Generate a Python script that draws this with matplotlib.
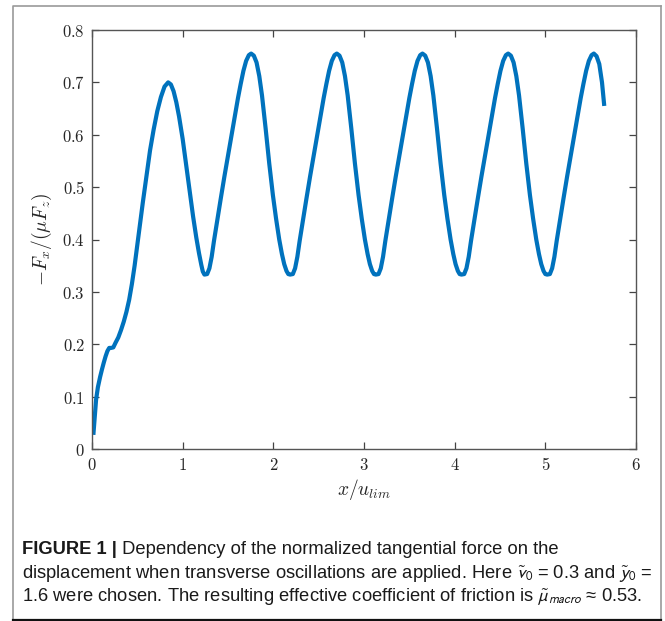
import matplotlib
matplotlib.use("Agg")
import matplotlib.pyplot as plt
from matplotlib.lines import Line2D
from matplotlib.ticker import FuncFormatter, FixedLocator

# ---- data ----
x_disp = [
    # start-up and first peak
    0.015, 0.025, 0.035, 0.045, 0.065, 0.09, 0.11, 0.13, 0.15, 0.17, 0.19, 0.21, 0.235,
    0.26, 0.29, 0.32, 0.35, 0.38, 0.41, 0.44, 0.47, 0.50, 0.53, 0.56, 0.60, 0.64, 0.68,
    0.72, 0.76, 0.80, 0.84,
    0.87, 0.90, 0.93, 0.96, 1.00, 1.04, 1.08, 1.115, 1.15, 1.18, 1.205, 1.222, 1.24,
    # cycle 1
    1.27, 1.295, 1.32, 1.345, 1.38, 1.42, 1.46, 1.50, 1.54, 1.58, 1.61, 1.64, 1.67, 1.70, 1.73, 1.755,
    1.785, 1.815, 1.845, 1.875, 1.915, 1.955, 1.995, 2.03, 2.065, 2.095, 2.12, 2.145, 2.165, 2.185,
    # cycle 2
    2.215, 2.24, 2.265, 2.29, 2.325, 2.365, 2.405, 2.445, 2.485, 2.525, 2.555, 2.585, 2.615, 2.645, 2.675, 2.70,
    2.73, 2.76, 2.79, 2.82, 2.86, 2.90, 2.94, 2.975, 3.01, 3.04, 3.065, 3.09, 3.11, 3.13,
    # cycle 3
    3.16, 3.185, 3.21, 3.235, 3.27, 3.31, 3.35, 3.39, 3.43, 3.47, 3.50, 3.53, 3.56, 3.59, 3.62, 3.645,
    3.675, 3.705, 3.735, 3.765, 3.805, 3.845, 3.885, 3.92, 3.955, 3.985, 4.01, 4.035, 4.055, 4.075,
    # cycle 4
    4.105, 4.13, 4.155, 4.18, 4.215, 4.255, 4.295, 4.335, 4.375, 4.415, 4.445, 4.475, 4.505, 4.535, 4.565, 4.59,
    4.62, 4.65, 4.68, 4.71, 4.75, 4.79, 4.83, 4.865, 4.90, 4.93, 4.955, 4.98, 5.00, 5.02,
    # cycle 5 (truncated)
    5.05, 5.075, 5.10, 5.125, 5.16, 5.20, 5.24, 5.28, 5.32, 5.36, 5.39, 5.42, 5.45, 5.48, 5.51, 5.535,
    5.565, 5.595, 5.625, 5.65,
]
force = [
    0.027, 0.050, 0.072, 0.094, 0.118, 0.138, 0.152, 0.165, 0.177, 0.187, 0.193, 0.193, 0.194,
    0.203, 0.213, 0.227, 0.243, 0.262, 0.285, 0.315, 0.350, 0.390, 0.430, 0.470, 0.520, 0.570, 0.610,
    0.645, 0.672, 0.692, 0.700,
    0.696, 0.683, 0.662, 0.635, 0.592, 0.540, 0.487, 0.444, 0.404, 0.374, 0.352, 0.339, 0.333,
    0.334, 0.345, 0.367, 0.397, 0.435, 0.478, 0.520, 0.560, 0.600, 0.640, 0.670, 0.697, 0.722, 0.741, 0.752, 0.755,
    0.751, 0.738, 0.712, 0.675, 0.612, 0.545, 0.485, 0.440, 0.400, 0.372, 0.353, 0.340, 0.334, 0.333,
    0.334, 0.345, 0.367, 0.397, 0.435, 0.478, 0.520, 0.560, 0.600, 0.640, 0.670, 0.697, 0.722, 0.741, 0.752, 0.755,
    0.751, 0.738, 0.712, 0.675, 0.612, 0.545, 0.485, 0.440, 0.400, 0.372, 0.353, 0.340, 0.334, 0.333,
    0.334, 0.345, 0.367, 0.397, 0.435, 0.478, 0.520, 0.560, 0.600, 0.640, 0.670, 0.697, 0.722, 0.741, 0.752, 0.755,
    0.751, 0.738, 0.712, 0.675, 0.612, 0.545, 0.485, 0.440, 0.400, 0.372, 0.353, 0.340, 0.334, 0.333,
    0.334, 0.345, 0.367, 0.397, 0.435, 0.478, 0.520, 0.560, 0.600, 0.640, 0.670, 0.697, 0.722, 0.741, 0.752, 0.755,
    0.751, 0.738, 0.712, 0.675, 0.612, 0.545, 0.485, 0.440, 0.400, 0.372, 0.353, 0.340, 0.334, 0.333,
    0.334, 0.345, 0.367, 0.397, 0.435, 0.478, 0.520, 0.560, 0.600, 0.640, 0.670, 0.697, 0.722, 0.741, 0.752, 0.755,
    0.750, 0.735, 0.700, 0.655,
]
x_ticks = [0, 1, 2, 3, 4, 5, 6]
y_ticks = [0, 0.1, 0.2, 0.3, 0.4, 0.5, 0.6, 0.7, 0.8]

caption_bold = "FIGURE 1 |"
caption_l1 = " Dependency of the normalized tangential force on the"
caption_l2 = r"displacement when transverse oscillations are applied. Here $\tilde{v}_0$ = 0.3 and $\tilde{y}_0$ ="
caption_l3 = r"1.6 were chosen. The resulting effective coefficient of friction is $\tilde{\mu}_{macro}$ ≈ 0.53."

# ---- figure ----
plt.rcParams["mathtext.fontset"] = "cm"
W, H = 665, 621
fig = plt.figure(figsize=(W / 100, H / 100), dpi=100)

ax = fig.add_axes([92 / W, 1 - 449 / H, 544 / W, 419 / H])
ax.plot(x_disp, force, color="#0072BD", lw=3.0, solid_capstyle="butt", solid_joinstyle="round")
ax.set_xlim(0, 6)
ax.set_ylim(0, 0.8)
ax.xaxis.set_major_locator(FixedLocator(x_ticks))
ax.yaxis.set_major_locator(FixedLocator(y_ticks))
fmt = FuncFormatter(lambda v, p: f"${v:g}$")
ax.xaxis.set_major_formatter(fmt)
ax.yaxis.set_major_formatter(fmt)
ax.tick_params(direction="in", length=5, width=0.9, color="#444444",
               labelsize=12, labelcolor="#262626", top=True, right=True, pad=5)
for s in ax.spines.values():
    s.set_color("#555555")
    s.set_linewidth(1.0)

ax.set_xlabel(r"$x/u_{lim}$", fontsize=14, color="#262626")
ax.set_ylabel(r"$-F_x/(\mu F_z)$", fontsize=14, color="#262626")
ax.xaxis.label.set_va("center")
ax.yaxis.label.set_va("center")
ax.xaxis.set_label_coords(0.5, (449 - 490) / 419)
ax.yaxis.set_label_coords((42 - 92) / 544, 0.5)

# ---- caption ----
cap_font = ["Liberation Sans Narrow", "Liberation Sans", "DejaVu Sans"]
fs = 13.2
x0 = 22 / W
t1 = fig.text(x0, 1 - 554 / H, caption_bold, fontsize=fs, fontweight="bold",
              family=cap_font, color="#1a1a1a", va="baseline")
ax.annotate(caption_l1, xy=(1, 0), xycoords=t1, va="bottom", ha="left",
            fontsize=fs, family=cap_font, color="#1a1a1a", annotation_clip=False)
fig.text(x0, 1 - 578 / H, caption_l2, fontsize=fs, family=cap_font, color="#1a1a1a",
         va="baseline", math_fontfamily="stixsans")
fig.text(x0, 1 - 602 / H, caption_l3, fontsize=fs, family=cap_font, color="#1a1a1a",
         va="baseline", math_fontfamily="stixsans")

# ---- frame around the figure ----
L, R, T, B = 13 / W, 661 / W, 1 - 6 / H, 1 - 620 / H
fig.add_artist(Line2D([L, R, R], [B, B, T], transform=fig.transFigure, color="#9a9a9a", lw=1.2))
fig.add_artist(Line2D([L, L, R], [B, T, T], transform=fig.transFigure, color="#9a9a9a", lw=1.2))
fig.add_artist(Line2D([L, R], [B, B], transform=fig.transFigure, color="#111111", lw=1.6))

fig.savefig("out.png", dpi=100)
